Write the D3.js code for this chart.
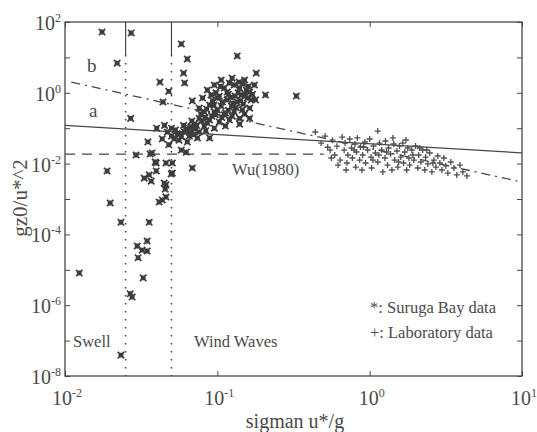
<!DOCTYPE html>
<html>
<head>
<meta charset="utf-8">
<script src="https://cdn.jsdelivr.net/npm/d3@7"></script>
<style>
  body { margin: 0; background: #fff; }
  svg text { font-family: "Liberation Serif", "DejaVu Serif", serif; fill: #4a4a4a; }
</style>
</head>
<body>
<div class="viz"></div>
<script>
var width = 537, height = 432;
var margin = { top: 22, right: 15, bottom: 56, left: 65 };

// decade ticks and which ones get a label
var xTicks = [1e-2, 1e-1, 1e0, 1e1];
var xTickLabels = ["-2", "-1", "0", "1"];
var yTicks = [1e-8, 1e-7, 1e-6, 1e-5, 1e-4, 1e-3, 1e-2, 1e-1, 1e0, 1e1, 1e2];
var yLabelTicks = [1e-8, 1e-6, 1e-4, 1e-2, 1e0, 1e2];
var yTickLabels = ["-8", "-6", "-4", "-2", "0", "2"];

// reference lines
var lineA = [[0.01, 0.12], [10, 0.02]];
var lineB = [[0.011, 2.0], [10, 0.003]];
var wuLine = [[0.01, 0.0185], [0.5, 0.0185]];
var regimeBounds = [0.025, 0.05];
var boundTop = 11.7;

// Suruga Bay data (x: sigma u*/g, y: gz0/u*^2)
var surugaBay = [
  [0.0175, 52], [0.0272, 49], [0.022, 6.9], [0.042, 2.0], [0.048, 1.1], [0.044, 0.55],
  [0.027, 0.19], [0.035, 0.041], [0.0435, 0.05], [0.05, 0.10], [0.058, 24], [0.0635, 9.0],
  [0.135, 11], [0.060, 3.6], [0.061, 1.9], [0.18, 3.6], [0.0685, 0.59], [0.207, 0.87],
  [0.33, 0.81], [0.163, 0.19], [0.089, 0.053],
  [0.086, 1.2], [0.0955, 1.66], [0.106, 2.3], [0.12, 1.89], [0.14, 1.37], [0.151, 2.3],
  [0.163, 1.05], [0.131, 0.81], [0.116, 1.05], [0.1, 0.71], [0.089, 0.45], [0.106, 0.42],
  [0.124, 0.42], [0.148, 0.48], [0.167, 0.63], [0.082, 0.29], [0.0955, 0.29], [0.111, 0.24],
  [0.129, 0.29], [0.151, 0.25], [0.076, 0.19], [0.089, 0.17], [0.103, 0.15], [0.12, 0.17],
  [0.14, 0.19], [0.0706, 0.13], [0.082, 0.115], [0.0955, 0.10], [0.0655, 0.10], [0.076, 0.078],
  [0.061, 0.078], [0.0546, 0.069], [0.0655, 0.060], [0.074, 0.053], [0.05, 0.060], [0.056, 0.046],
  [0.0635, 0.041], [0.053, 0.089], [0.047, 0.078], [0.076, 0.37], [0.163, 0.37], [0.178, 0.63],
  [0.14, 0.13], [0.113, 0.115], [0.091, 0.87], [0.111, 1.37], [0.129, 1.66], [0.144, 0.87],
  [0.1, 0.33], [0.116, 0.63], [0.135, 0.55], [0.175, 1.66], [0.157, 0.71], [0.08, 0.71],
  [0.04, 0.10], [0.045, 0.12],
  [0.093, 0.6], [0.108, 0.55], [0.122, 0.75], [0.137, 1.0], [0.155, 1.2], [0.098, 1.0],
  [0.085, 0.35], [0.118, 0.32], [0.133, 0.38], [0.146, 0.33], [0.078, 0.25], [0.092, 0.22],
  [0.107, 0.2], [0.125, 0.22], [0.068, 0.16], [0.086, 0.14], [0.072, 0.095], [0.06, 0.12],
  [0.084, 0.085], [0.066, 0.075], [0.058, 0.058], [0.07, 0.065], [0.105, 1.5], [0.125, 2.6],
  [0.16, 1.5], [0.17, 0.9],
  [0.052, 0.05], [0.057, 0.07], [0.062, 0.09], [0.067, 0.11], [0.073, 0.12], [0.079, 0.16],
  [0.083, 0.2], [0.097, 0.24], [0.113, 0.27], [0.127, 0.5], [0.142, 0.6], [0.152, 0.9],
  [0.118, 0.9], [0.103, 0.8], [0.095, 0.45], [0.139, 2.0], [0.147, 1.8],
  [0.048, 0.034], [0.058, 0.024], [0.0625, 0.021], [0.0685, 0.0075], [0.0397, 0.0104],
  [0.046, 0.0104], [0.0506, 0.0104], [0.0506, 0.0054], [0.046, 0.0025], [0.0435, 0.00094],
  [0.0373, 0.020], [0.0293, 0.0175], [0.0362, 0.0187], [0.0189, 0.0062], [0.0391, 0.0111],
  [0.0397, 0.0062], [0.0498, 0.0051], [0.0331, 0.0039], [0.0368, 0.0032], [0.0357, 0.0048],
  [0.0448, 0.0028], [0.0455, 0.0019], [0.046, 0.00114], [0.0415, 0.00082], [0.0198, 0.00077],
  [0.0233, 0.00022], [0.0357, 0.00022], [0.0346, 6.5e-5], [0.0298, 4.7e-5], [0.0321, 3.6e-5],
  [0.0346, 3.4e-5], [0.0302, 2.2e-5], [0.0124, 8.1e-6], [0.0326, 5.9e-6], [0.0268, 2.1e-6],
  [0.0276, 1.7e-6], [0.0233, 3.9e-8]
];

// Laboratory data
var laboratory = [
  [0.48, 0.038], [0.53, 0.029], [0.55, 0.024], [0.57, 0.046], [0.59, 0.0175], [0.61, 0.031],
  [0.64, 0.0126], [0.66, 0.056], [0.68, 0.024], [0.69, 0.038], [0.71, 0.0104], [0.72, 0.0175],
  [0.74, 0.0495], [0.76, 0.0276], [0.77, 0.0144], [0.80, 0.0358], [0.81, 0.008], [0.82, 0.0213],
  [0.83, 0.053], [0.86, 0.0126], [0.87, 0.0294], [0.89, 0.0066], [0.90, 0.0175], [0.93, 0.0407],
  [0.94, 0.0104], [0.97, 0.0242], [1.0, 0.0495], [1.02, 0.0153], [1.03, 0.0075], [1.06, 0.0314],
  [1.09, 0.0199], [1.13, 0.083], [1.13, 0.0111], [1.16, 0.038], [1.2, 0.0242], [1.22, 0.0058],
  [1.26, 0.0144], [1.27, 0.0435], [1.31, 0.0091], [1.33, 0.0276], [1.37, 0.0187], [1.4, 0.0066],
  [1.44, 0.0358], [1.46, 0.0126], [1.51, 0.0227], [1.53, 0.008], [1.57, 0.0314], [1.6, 0.0153],
  [1.65, 0.038], [1.67, 0.0104], [1.7, 0.0213], [1.75, 0.0066], [1.78, 0.0276], [1.81, 0.0144],
  [1.83, 0.0091], [1.89, 0.0242], [1.95, 0.0126], [2.0, 0.0314], [2.07, 0.0075], [2.1, 0.0175],
  [2.17, 0.0111], [2.23, 0.0242], [2.3, 0.0066], [2.33, 0.0153], [2.41, 0.0098], [2.48, 0.0199],
  [2.56, 0.0058], [2.64, 0.0126], [2.72, 0.008], [2.8, 0.0164], [2.89, 0.0104], [2.98, 0.0066],
  [3.07, 0.0144], [3.16, 0.0086], [3.26, 0.0054], [3.41, 0.0111], [3.57, 0.0075], [3.73, 0.0048],
  [3.91, 0.0091], [4.09, 0.0058], [4.35, 0.0045], [0.44, 0.078], [0.51, 0.060],
  [0.56, 0.0144], [0.62, 0.0091], [0.70, 0.0066], [0.79, 0.0242], [0.91, 0.0294], [1.05, 0.0126],
  [1.15, 0.0175], [1.29, 0.0213], [1.42, 0.053], [1.55, 0.0111], [1.73, 0.0464], [1.92, 0.0175],
  [2.13, 0.0276], [2.37, 0.0242], [2.6, 0.0104]
];

var svg = d3.select('.viz').append('svg')
    .attr('width', width)
    .attr('height', height);

var x = d3.scaleLog().domain([1e-2, 1e1]).range([margin.left, width - margin.right]);
var y = d3.scaleLog().domain([1e-8, 1e2]).range([height - margin.bottom, margin.top]);

var ink = '#474747';
var line = d3.line().x(function (d) { return x(d[0]); }).y(function (d) { return y(d[1]); });

// frame
svg.append('rect')
    .attr('x', x(1e-2)).attr('y', y(1e2))
    .attr('width', x(1e1) - x(1e-2)).attr('height', y(1e-8) - y(1e2))
    .attr('fill', 'none').attr('stroke', ink).attr('stroke-width', 1.3);

// inward ticks on all four sides
function tickAxis(axis, tx, ty) {
    var g = svg.append('g').attr('transform', 'translate(' + tx + ',' + ty + ')').call(axis);
    g.select('.domain').remove();
    g.selectAll('text').remove();
    g.selectAll('line').attr('stroke', ink).attr('stroke-width', 1);
}
tickAxis(d3.axisBottom(x).tickValues(xTicks).tickSize(-5), 0, y(1e-8));
tickAxis(d3.axisTop(x).tickValues(xTicks).tickSize(-5), 0, y(1e2));
tickAxis(d3.axisLeft(y).tickValues(yTicks).tickSize(-5), x(1e-2), 0);
tickAxis(d3.axisRight(y).tickValues(yTicks).tickSize(-5), x(1e1), 0);

function powText(g, exp) {
    g.append('tspan').text('10');
    g.append('tspan').attr('dy', -8).attr('font-size', 12).text(exp);
}

svg.append('g').selectAll('text')
    .data(xTicks)
    .join('text')
    .attr('x', function (d) { return x(d) + 2; })
    .attr('y', 405)
    .attr('text-anchor', 'middle')
    .attr('font-size', 20)
    .each(function (d, i) { powText(d3.select(this), xTickLabels[i]); });

svg.append('g').selectAll('text')
    .data(yLabelTicks)
    .join('text')
    .attr('x', 61)
    .attr('y', function (d) { return y(d) + 8; })
    .attr('text-anchor', 'end')
    .attr('font-size', 20)
    .each(function (d, i) { powText(d3.select(this), yTickLabels[i]); });

// axis titles
svg.append('text')
    .attr('transform', 'translate(27,' + 198 + ') rotate(-90)')
    .attr('text-anchor', 'middle')
    .attr('font-size', 21)
    .text('gz0/u*^2');

svg.append('text')
    .attr('x', 295).attr('y', 428)
    .attr('text-anchor', 'middle')
    .attr('font-size', 20)
    .text('sigman u*/g');

// swell / wind wave boundaries
regimeBounds.forEach(function (b) {
    svg.append('path').attr('d', line([[b, 1e2], [b, boundTop]]))
        .attr('stroke', ink).attr('stroke-width', 1.2).attr('fill', 'none');
    svg.append('path').attr('d', line([[b, boundTop], [b, 1e-8]]))
        .attr('stroke', ink).attr('stroke-width', 1.6).attr('fill', 'none')
        .attr('stroke-dasharray', '1.6,6.4');
});

// fitted lines
svg.append('path').attr('d', line(lineA))
    .attr('stroke', ink).attr('stroke-width', 1.2).attr('fill', 'none');
svg.append('path').attr('d', line(lineB))
    .attr('stroke', ink).attr('stroke-width', 1.3).attr('fill', 'none')
    .attr('stroke-dasharray', '9,5,2,5');
svg.append('path').attr('d', line(wuLine))
    .attr('stroke', ink).attr('stroke-width', 1.3).attr('fill', 'none')
    .attr('stroke-dasharray', '10,7');

// laboratory points (+)
svg.append('g').selectAll('path')
    .data(laboratory)
    .join('path')
    .attr('transform', function (d) { return 'translate(' + x(d[0]) + ',' + y(d[1]) + ')'; })
    .attr('d', 'M-3,0H3M0,-3V3')
    .attr('stroke', '#505050').attr('stroke-width', 1.3).attr('fill', 'none');

// Suruga Bay points (boxed x)
svg.append('g').selectAll('path')
    .data(surugaBay)
    .join('path')
    .attr('transform', function (d) { return 'translate(' + x(d[0]) + ',' + y(d[1]) + ')'; })
    .attr('d', 'M-3.2,-3.2L3.2,3.2M-3.2,3.2L3.2,-3.2M-1.6,-1.6h3.2v3.2h-3.2z')
    .attr('stroke', '#3c3c3c').attr('stroke-width', 1.7).attr('fill', '#3c3c3c');

// annotations
var notes = [
    { t: 'b', x: 87, y: 72, s: 19 },
    { t: 'a', x: 89, y: 117, s: 19 },
    { t: 'Wu(1980)', x: 232, y: 175, s: 16.5 },
    { t: 'Swell', x: 73, y: 347, s: 16.5 },
    { t: 'Wind Waves', x: 194, y: 347, s: 16.5 },
    { t: '*: Suruga Bay data', x: 370, y: 313, s: 16.5 },
    { t: '+: Laboratory data', x: 370, y: 338, s: 16.5 }
];
svg.append('g').selectAll('text')
    .data(notes)
    .join('text')
    .attr('x', function (d) { return d.x; })
    .attr('y', function (d) { return d.y; })
    .attr('font-size', function (d) { return d.s; })
    .text(function (d) { return d.t; });
</script>
</body>
</html>
